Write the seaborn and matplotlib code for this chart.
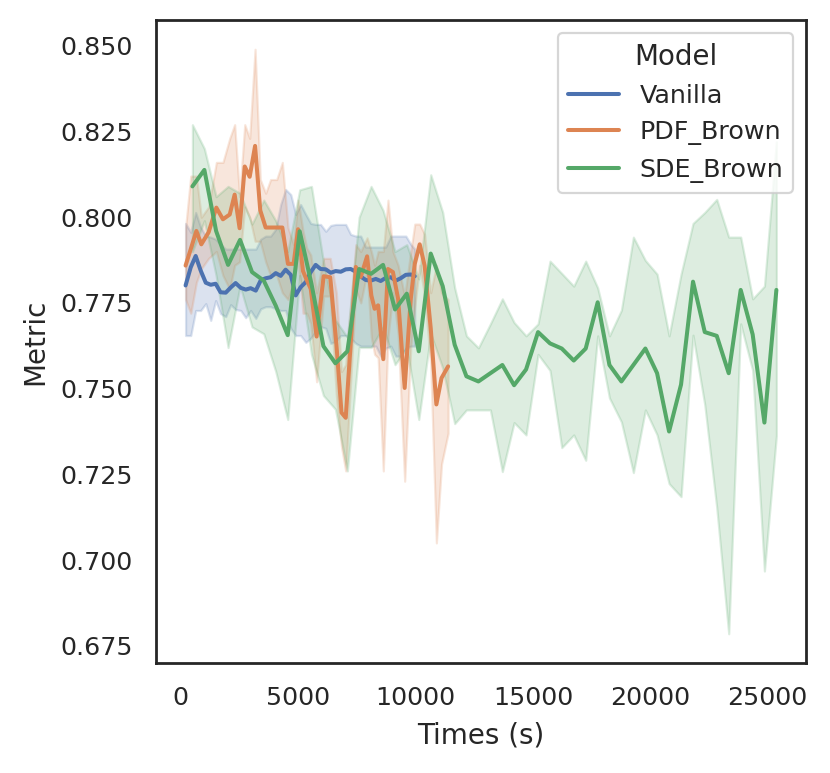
import numpy as np
import pandas as pd
import seaborn as sns
import matplotlib
matplotlib.use("Agg")
import matplotlib.pyplot as plt

# ---- data ----
models = ["Vanilla", "PDF_Brown", "SDE_Brown"]

vanilla_times = [210, 430, 640, 850, 1070, 1280, 1490, 1700, 1920, 2130, 2340, 2560, 2770, 2980,
                 3200, 3410, 3620, 3830, 4050, 4260, 4470, 4690, 4900, 5110, 5330, 5540, 5750,
                 5960, 6180, 6390, 6600, 6820, 7030, 7240, 7460, 7670, 7880, 8090, 8310, 8520,
                 8730, 8950, 9160, 9370, 9590, 9800, 9970]
vanilla_mean = [0.7801, 0.7854, 0.7887, 0.7845, 0.7809, 0.7803, 0.7806, 0.7781, 0.7780, 0.7795,
                0.7808, 0.7794, 0.7789, 0.7793, 0.7786, 0.7816, 0.7822, 0.7825, 0.7837, 0.7829,
                0.7847, 0.7832, 0.7772, 0.7796, 0.7811, 0.7840, 0.7861, 0.7849, 0.7848, 0.7838,
                0.7843, 0.7841, 0.7848, 0.7849, 0.7841, 0.7827, 0.7817, 0.7815, 0.7820, 0.7814,
                0.7823, 0.7825, 0.7815, 0.7822, 0.7832, 0.7833, 0.7828]
vanilla_hi = [0.7982, 0.7956, 0.8014, 0.7971, 0.7945, 0.7942, 0.7936, 0.7921, 0.7907, 0.7907,
              0.7907, 0.7907, 0.7907, 0.7907, 0.7907, 0.7936, 0.7945, 0.7945, 0.7965, 0.8037,
              0.8081, 0.8066, 0.8008, 0.8037, 0.8008, 0.7982, 0.7979, 0.7979, 0.7959, 0.7976,
              0.7979, 0.7979, 0.7979, 0.7950, 0.7945, 0.7945, 0.7913, 0.7913, 0.7913, 0.7913,
              0.7913, 0.7945, 0.7945, 0.7945, 0.7945, 0.7921, 0.7907]
vanilla_lo = [0.7655, 0.7655, 0.7728, 0.7728, 0.7748, 0.7699, 0.7757, 0.7719, 0.7710, 0.7745,
              0.7731, 0.7728, 0.7707, 0.7728, 0.7705, 0.7733, 0.7739, 0.7739, 0.7733, 0.7728,
              0.7728, 0.7676, 0.7655, 0.7655, 0.7635, 0.7647, 0.7667, 0.7681, 0.7676, 0.7632,
              0.7638, 0.7655, 0.7655, 0.7647, 0.7632, 0.7624, 0.7624, 0.7624, 0.7624, 0.7595,
              0.7618, 0.7624, 0.7595, 0.7595, 0.7618, 0.7624, 0.7624]

pdf_times = [210, 430, 670, 880, 1190, 1520, 1800, 2090, 2300, 2510, 2730, 2940, 3170, 3390,
             3620, 3830, 4090, 4330, 4570, 4810, 5000, 5210, 5370, 5540, 5790, 6090, 6370,
             6630, 6850, 7030, 7460, 7670, 7940, 8120, 8260, 8410, 8630, 8830, 9040, 9260,
             9540, 9800, 9970, 10180, 10390, 10650, 10890, 11110, 11390]
pdf_mean = [0.7859, 0.7907, 0.7960, 0.7921, 0.7956, 0.8028, 0.7994, 0.8008, 0.8066, 0.7968,
            0.8148, 0.8118, 0.8208, 0.8020, 0.7970, 0.7970, 0.7970, 0.7970, 0.7864, 0.7864,
            0.7965, 0.7843, 0.7817, 0.7791, 0.7652, 0.7828, 0.7825, 0.7632, 0.7430, 0.7415,
            0.7855, 0.7826, 0.7886, 0.7772, 0.7733, 0.7743, 0.7586, 0.7849, 0.7840, 0.7762,
            0.7502, 0.7762, 0.7864, 0.7921, 0.7859, 0.7676, 0.7454, 0.7531, 0.7565]
pdf_hi = [0.797, 0.812, 0.812, 0.800, 0.803, 0.816, 0.816, 0.823, 0.827, 0.806,
          0.827, 0.823, 0.849, 0.811, 0.807, 0.811, 0.811, 0.816, 0.797, 0.792,
          0.805, 0.796, 0.791, 0.789, 0.778, 0.788, 0.788, 0.778, 0.755, 0.757,
          0.792, 0.790, 0.794, 0.790, 0.786, 0.790, 0.790, 0.805, 0.790, 0.786,
          0.777, 0.790, 0.798, 0.798, 0.795, 0.778, 0.786, 0.778, 0.776]
pdf_lo = [0.776, 0.772, 0.781, 0.785, 0.788, 0.790, 0.783, 0.779, 0.786, 0.787,
          0.803, 0.800, 0.793, 0.793, 0.787, 0.783, 0.783, 0.778, 0.776, 0.781,
          0.788, 0.772, 0.772, 0.769, 0.752, 0.777, 0.777, 0.748, 0.733, 0.726,
          0.779, 0.775, 0.784, 0.765, 0.760, 0.759, 0.726, 0.765, 0.778, 0.766,
          0.723, 0.762, 0.774, 0.786, 0.777, 0.757, 0.705, 0.728, 0.737]

sde_times = [500, 1010, 1510, 2020, 2530, 3040, 3540, 4050, 4560, 5070, 5570, 6080, 6590,
             7100, 7600, 8110, 8620, 9130, 9630, 10140, 10650, 11160, 11670, 12170, 12680,
             13190, 13700, 14200, 14710, 15220, 15730, 16230, 16740, 17250, 17760, 18260,
             18770, 19280, 19790, 20290, 20800, 21310, 21820, 22320, 22830, 23340, 23850,
             24360, 24860, 25370]
sde_mean = [0.8090, 0.8138, 0.7960, 0.7861, 0.7934, 0.7840, 0.7815, 0.7742, 0.7656, 0.7959,
            0.7806, 0.7624, 0.7574, 0.7609, 0.7849, 0.7835, 0.7861, 0.7731, 0.7777, 0.7609,
            0.7894, 0.7799, 0.7628, 0.7536, 0.7521, 0.7545, 0.7569, 0.7510, 0.7556, 0.7665,
            0.7632, 0.7617, 0.7582, 0.7617, 0.7752, 0.7569, 0.7521, 0.7569, 0.7617, 0.7545,
            0.7375, 0.7512, 0.7812, 0.7665, 0.7654, 0.7545, 0.7788, 0.7658, 0.7401, 0.7788]
sde_hi = [0.827, 0.820, 0.806, 0.809, 0.807, 0.798, 0.805, 0.799, 0.790, 0.808,
          0.809, 0.787, 0.770, 0.765, 0.800, 0.809, 0.802, 0.790, 0.792, 0.782,
          0.8124, 0.8014, 0.7794, 0.7654, 0.7619, 0.7689, 0.7762, 0.7693, 0.7654, 0.7689,
          0.7872, 0.7836, 0.7799, 0.7872, 0.7794, 0.7654, 0.7729, 0.7942, 0.7874, 0.7834,
          0.7654, 0.7834, 0.7982, 0.8014, 0.8052, 0.7942, 0.7942, 0.7762, 0.7799, 0.822]
sde_lo = [0.790, 0.799, 0.783, 0.762, 0.780, 0.768, 0.766, 0.755, 0.741, 0.783,
          0.760, 0.748, 0.744, 0.726, 0.762, 0.762, 0.768, 0.757, 0.762, 0.741,
          0.766, 0.756, 0.7398, 0.7438, 0.7438, 0.7438, 0.7258, 0.7401, 0.7365, 0.760,
          0.7553, 0.7328, 0.7365, 0.7291, 0.7654, 0.7473, 0.7403, 0.7255, 0.7438, 0.7365,
          0.7223, 0.7185, 0.7656, 0.7453, 0.7153, 0.6785, 0.7689, 0.7553, 0.6968, 0.7363]

# long-form table for seaborn
frames = []
for name, t, m, lo, hi in [("Vanilla", vanilla_times, vanilla_mean, vanilla_lo, vanilla_hi),
                           ("PDF_Brown", pdf_times, pdf_mean, pdf_lo, pdf_hi),
                           ("SDE_Brown", sde_times, sde_mean, sde_lo, sde_hi)]:
    frames.append(pd.DataFrame({"Times (s)": t, "Metric": m, "lo": lo, "hi": hi, "Model": name}))
df = pd.concat(frames, ignore_index=True)

sns.set_theme(style="white", context="paper", font_scale=1.04,
              rc={"lines.linewidth": 1.45, "axes.linewidth": 1.0})
palette = sns.color_palette("deep", 3)

fig = plt.figure(figsize=(4.15, 3.865), dpi=200)
ax = fig.add_axes([0.188, 0.1423, 0.783, 0.8318])

sns.lineplot(data=df, x="Times (s)", y="Metric", hue="Model", hue_order=models,
             palette=palette, errorbar=None, ax=ax)

# confidence bands (same look as seaborn's own error band)
for color, name in zip(palette, models):
    sub = df[df["Model"] == name]
    ax.fill_between(sub["Times (s)"], sub["lo"], sub["hi"], color=color, alpha=0.2)

ax.legend(title="Model", loc="upper right")

plt.savefig("out.png", dpi=200)
